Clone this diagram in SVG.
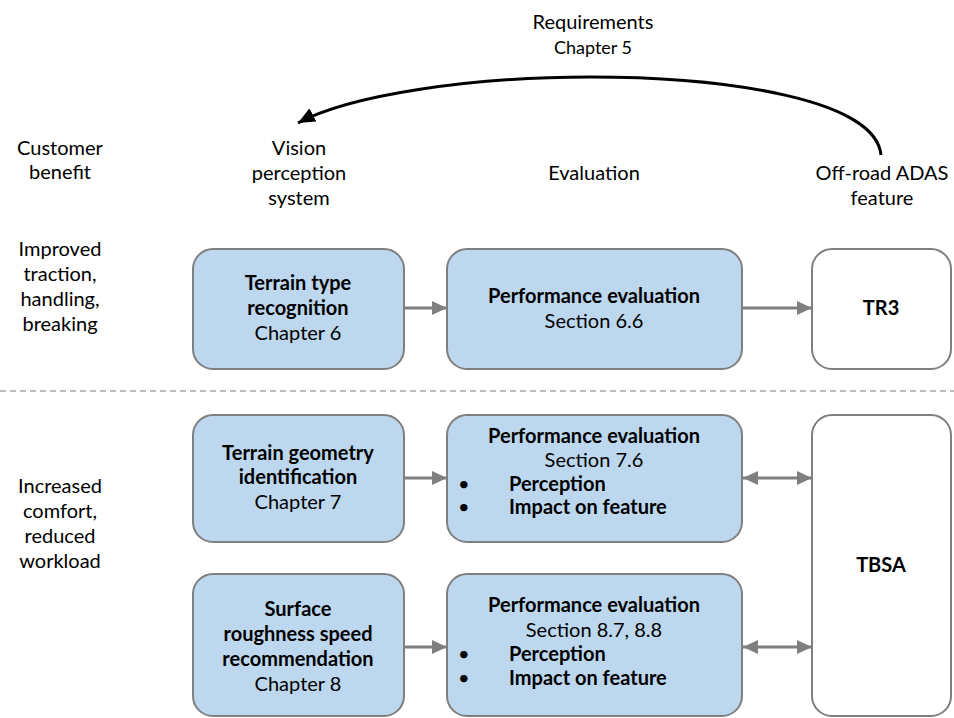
<svg xmlns="http://www.w3.org/2000/svg" width="954" height="718" viewBox="0 0 954 718">
  <style>
    text { font-family: Lato, "Open Sans", "Liberation Sans", sans-serif; font-size: 20px; fill: #000; text-anchor: middle; }
    .b { font-weight: bold; }
    .s { font-size: 18px; }
    .box { fill: #bdd7ee; stroke: #7f7f7f; stroke-width: 2; }
    .wbox { fill: #ffffff; stroke: #7f7f7f; stroke-width: 2; }
    .conn { stroke: #7f7f7f; stroke-width: 3; fill: none; }
    .sep { stroke: #a6a6a6; stroke-width: 1.5; stroke-dasharray: 6 4; }
    .lft { text-anchor: start; }
  </style>
  <defs>
    <marker id="ga" viewBox="0 0 10 10" refX="10" refY="5" markerWidth="15" markerHeight="14" markerUnits="userSpaceOnUse" orient="auto-start-reverse" preserveAspectRatio="none">
      <path d="M0,0 L10,5 L0,10 z" fill="#7f7f7f"/>
    </marker>
    <marker id="ba" viewBox="0 0 10 10" refX="10" refY="5" markerWidth="17" markerHeight="15" markerUnits="userSpaceOnUse" orient="auto" preserveAspectRatio="none">
      <path d="M0,0 L10,5 L0,10 z" fill="#000"/>
    </marker>
  </defs>

  <!-- column and row headings -->
  <g id="headings">
    <text x="60" y="155">Customer</text>
    <text x="60" y="179">benefit</text>
    <text x="299" y="155">Vision</text>
    <text x="299" y="180">perception</text>
    <text x="299" y="205">system</text>
    <text x="594" y="180">Evaluation</text>
    <text x="882" y="180">Off-road ADAS</text>
    <text x="882" y="205">feature</text>
    <text x="60" y="256">Improved</text>
    <text x="60" y="281">traction,</text>
    <text x="60" y="306">handling,</text>
    <text x="60" y="331">breaking</text>
    <text x="60" y="493">Increased</text>
    <text x="60" y="518">comfort,</text>
    <text x="60" y="543">reduced</text>
    <text x="60" y="568">workload</text>
  </g>

  <!-- requirements loop label -->
  <g id="requirements">
    <text x="593" y="29">Requirements</text>
    <text x="593" y="54" class="s">Chapter 5</text>
  </g>

  <line class="sep" x1="0" y1="391" x2="954" y2="391"/>

  <!-- row 1 -->
  <g id="terrain-type">
    <rect class="box" x="193" y="249" width="211" height="120" rx="20"/>
    <text x="298" y="290" class="b">Terrain type</text>
    <text x="298" y="315" class="b">recognition</text>
    <text x="298" y="340">Chapter 6</text>
  </g>
  <g id="eval-6">
    <rect class="box" x="447" y="249" width="295" height="120" rx="20"/>
    <text x="594" y="303" class="b">Performance evaluation</text>
    <text x="594" y="328">Section 6.6</text>
  </g>
  <g id="tr3">
    <rect class="wbox" x="812" y="249" width="139" height="120" rx="20"/>
    <text x="881" y="315" class="b">TR3</text>
  </g>

  <!-- row 2 -->
  <g id="terrain-geometry">
    <rect class="box" x="193" y="415" width="211" height="127" rx="20"/>
    <text x="298" y="460" class="b">Terrain geometry</text>
    <text x="298" y="484" class="b">identification</text>
    <text x="298" y="509">Chapter 7</text>
  </g>
  <g id="eval-7">
    <rect class="box" x="447" y="415" width="295" height="127" rx="20"/>
    <text x="594" y="443" class="b">Performance evaluation</text>
    <text x="594" y="467">Section 7.6</text>
    <text x="458" y="491" class="lft">•</text>
    <text x="509" y="491" class="b lft">Perception</text>
    <text x="458" y="514" class="lft">•</text>
    <text x="509" y="514" class="b lft">Impact on feature</text>
  </g>

  <!-- row 3 -->
  <g id="surface-roughness">
    <rect class="box" x="193" y="574" width="211" height="142" rx="20"/>
    <text x="298" y="616" class="b">Surface</text>
    <text x="298" y="641" class="b">roughness speed</text>
    <text x="298" y="666" class="b">recommendation</text>
    <text x="298" y="691">Chapter 8</text>
  </g>
  <g id="eval-8">
    <rect class="box" x="447" y="574" width="295" height="142" rx="20"/>
    <text x="594" y="612" class="b">Performance evaluation</text>
    <text x="594" y="637">Section 8.7, 8.8</text>
    <text x="458" y="661" class="lft">•</text>
    <text x="509" y="661" class="b lft">Perception</text>
    <text x="458" y="685" class="lft">•</text>
    <text x="509" y="685" class="b lft">Impact on feature</text>
  </g>

  <g id="tbsa">
    <rect class="wbox" x="812" y="415" width="139" height="301" rx="20"/>
    <text x="881" y="572" class="b">TBSA</text>
  </g>

  <!-- connectors -->
  <g id="connectors">
    <line class="conn" x1="404" y1="308" x2="447" y2="308" marker-end="url(#ga)"/>
    <line class="conn" x1="742" y1="308" x2="812" y2="308" marker-end="url(#ga)"/>
    <line class="conn" x1="404" y1="478" x2="447" y2="478" marker-end="url(#ga)"/>
    <line class="conn" x1="743" y1="478" x2="812" y2="478" marker-start="url(#ga)" marker-end="url(#ga)"/>
    <line class="conn" x1="404" y1="647" x2="447" y2="647" marker-end="url(#ga)"/>
    <line class="conn" x1="743" y1="647" x2="812" y2="647" marker-start="url(#ga)" marker-end="url(#ga)"/>
    <path d="M881,155 C876,100 730,77 590,77 C470,77 350,95 298,123" fill="none" stroke="#000" stroke-width="3" marker-end="url(#ba)"/>
  </g>
</svg>
